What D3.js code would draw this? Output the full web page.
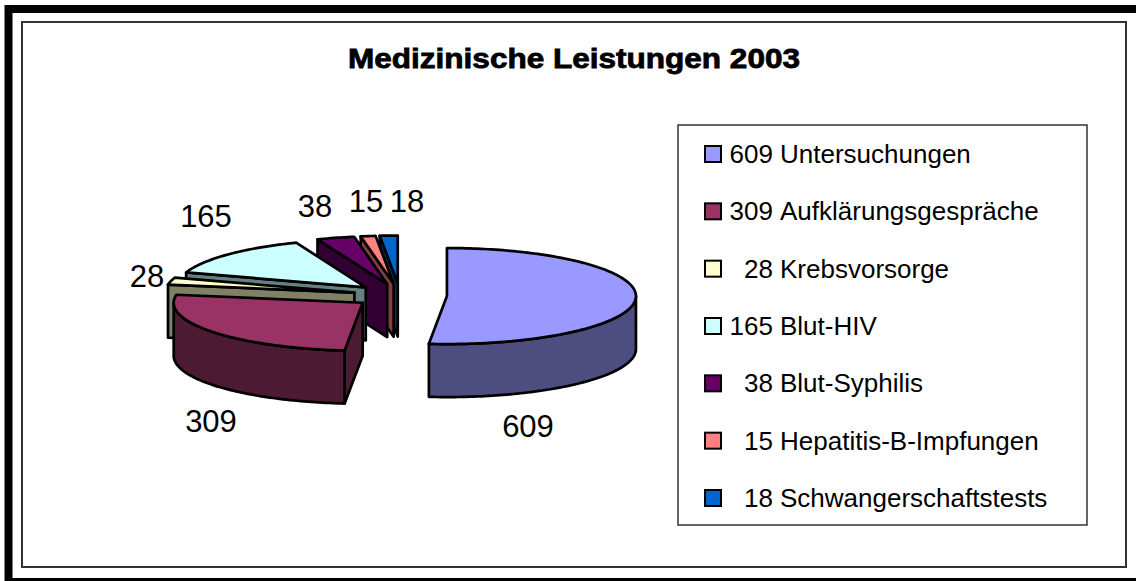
<!DOCTYPE html>
<html>
<head>
<meta charset="utf-8">
<script src="https://cdn.jsdelivr.net/npm/d3@7"></script>
<style>
  html, body { margin: 0; padding: 0; background: #fff; }
  svg { display: block; font-family: "Liberation Sans", Arial, sans-serif; }
</style>
</head>
<body>
<svg id="mainFrame"></svg>
<script>
// data
const title = 'Medizinische Leistungen 2003';
const categories = ['Untersuchungen', 'Aufklärungsgespräche', 'Krebsvorsorge', 'Blut-HIV',
                    'Blut-Syphilis', 'Hepatitis-B-Impfungen', 'Schwangerschaftstests'];
const values = [609, 309, 28, 165, 38, 15, 18];

// styles / layout
const palette = ['#9999ff', '#993366', '#ffffcc', '#ccffff', '#660066', '#ff8080', '#0066cc'];
const labelPos = [[528, 437], [211, 432], [147, 287], [206, 227], [315, 217], [366, 212], [407, 212]];

const width = 1136, height = 581;
const pie3d = { cx: 400, cy: 295.5, rx: 189, ry: 48, depth: 53, explode: 47 };

const svg = d3.select('#mainFrame')
    .attr('width', width)
    .attr('height', height);

// outer black frame + inner chart border
svg.append('rect')
    .attr('x', 8.5).attr('y', 9)
    .attr('width', 1140).attr('height', 573)
    .attr('fill', 'none').attr('stroke', '#000').attr('stroke-width', 8);

svg.append('rect')
    .attr('x', 22).attr('y', 22)
    .attr('width', 1104).attr('height', 545)
    .attr('fill', '#fff').attr('stroke', '#333').attr('stroke-width', 2);

svg.append('text')
    .attr('x', 574).attr('y', 68)
    .attr('text-anchor', 'middle')
    .attr('font-size', 28).attr('font-weight', 'bold')
    .attr('stroke', '#000').attr('stroke-width', 0.8)
    .attr('textLength', 452).attr('lengthAdjust', 'spacingAndGlyphs')
    .text(title);

const data = categories.map((c, i) => ({ name: c, value: values[i], idx: i }));

const color = d3.scaleOrdinal()
    .domain(categories)
    .range(palette);

const shade = c => {
    const r = d3.rgb(c);
    return d3.rgb(r.r * 0.5, r.g * 0.5, r.b * 0.5).formatHex();
};

const arcs = d3.pie()
    .sort(null)
    .value(d => d.value)
    .startAngle(0)
    .endAngle(2 * Math.PI)(data);

// project a point on the tilted disc (angle clockwise from 12 o'clock)
const rim = (s, a, z = 0) => [s.ox + pie3d.rx * Math.sin(a), s.oy - pie3d.ry * Math.cos(a) + z];

const arcPoints = (s, a0, a1, z) => {
    const n = Math.max(2, Math.ceil((a1 - a0) / 0.02));
    return d3.range(n + 1).map(i => rim(s, a0 + (a1 - a0) * i / n, z));
};

const line = d3.line();

const slices = arcs.map(a => {
    const mid = (a.startAngle + a.endAngle) / 2;
    const ey = pie3d.explode * pie3d.ry / pie3d.rx;
    const s = {
        a0: a.startAngle, a1: a.endAngle, mid,
        name: a.data.name,
        ox: pie3d.cx + pie3d.explode * Math.sin(mid),
        oy: pie3d.cy - ey * Math.cos(mid)
    };
    s.key = s.oy - pie3d.ry * Math.cos(mid);
    return s;
});

// back to front
slices.sort((a, b) => a.key - b.key);

const pieG = svg.append('g')
    .attr('stroke', '#000')
    .attr('stroke-width', 2.7)
    .attr('stroke-linejoin', 'round');

slices.forEach(s => {
    const g = pieG.append('g');
    const top = color(s.name), side = shade(top);
    const D = pie3d.depth;

    // radial face on start edge
    if (Math.sin(s.a0) < -1e-6) {
        const p = rim(s, s.a0);
        g.append('path').attr('fill', side)
            .attr('d', line([[s.ox, s.oy], p, [p[0], p[1] + D], [s.ox, s.oy + D]]) + 'Z');
    }
    // radial face on end edge
    if (Math.sin(s.a1) > 1e-6) {
        const p = rim(s, s.a1);
        g.append('path').attr('fill', side)
            .attr('d', line([[s.ox, s.oy], p, [p[0], p[1] + D], [s.ox, s.oy + D]]) + 'Z');
    }
    // outer curved wall (front half only)
    const b0 = Math.max(s.a0, Math.PI / 2), b1 = Math.min(s.a1, 3 * Math.PI / 2);
    if (b1 > b0) {
        const pts = arcPoints(s, b0, b1, 0).concat(arcPoints(s, b0, b1, D).reverse());
        g.append('path').attr('fill', side).attr('d', line(pts) + 'Z');
    }
    // top face
    g.append('path').attr('fill', top)
        .attr('d', line([[s.ox, s.oy]].concat(arcPoints(s, s.a0, s.a1, 0))) + 'Z');
});

// value labels
svg.append('g').selectAll('text').data(data)
    .enter().append('text')
        .attr('x', d => labelPos[d.idx][0])
        .attr('y', d => labelPos[d.idx][1])
        .attr('text-anchor', 'middle')
        .attr('font-size', 31)
        .text(d => d.value);

// legend
const legend = svg.append('g');
legend.append('rect')
    .attr('x', 678).attr('y', 125)
    .attr('width', 409).attr('height', 400)
    .attr('fill', '#fff').attr('stroke', '#333').attr('stroke-width', 1.5);

const yRow = d3.scalePoint()
    .domain(categories)
    .range([154, 498]);

const items = legend.selectAll('g.item').data(data)
    .enter().append('g')
        .attr('class', 'item')
        .attr('transform', d => `translate(0,${yRow(d.name)})`);

items.append('rect')
    .attr('x', 705).attr('y', -8)
    .attr('width', 16).attr('height', 16)
    .attr('fill', d => color(d.name))
    .attr('stroke', '#000').attr('stroke-width', 2);

items.append('text')
    .attr('x', 773).attr('y', 9)
    .attr('text-anchor', 'end')
    .attr('font-size', 26)
    .text(d => d.value);

items.append('text')
    .attr('x', 780).attr('y', 9)
    .attr('font-size', 26)
    .text(d => d.name);
</script>
</body>
</html>
